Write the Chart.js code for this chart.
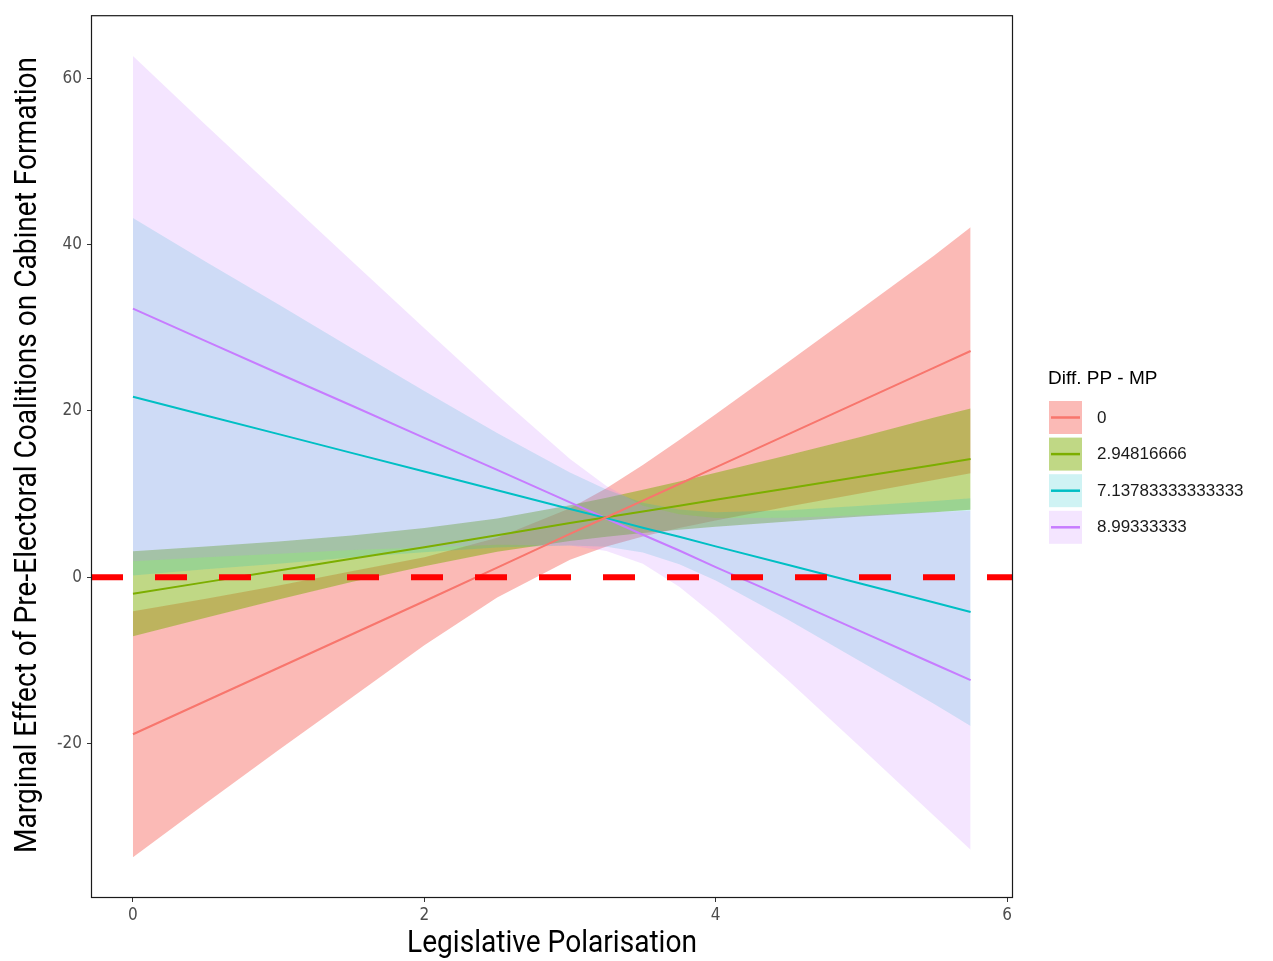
<!DOCTYPE html>
<html>
<head>
<meta charset="utf-8">
<title>Marginal Effect</title>
<script src="https://cdn.jsdelivr.net/npm/chart.js@4.4.1/dist/chart.umd.min.js"></script>
<style>
  html, body { margin: 0; padding: 0; background: #fff; }
  #wrap { width: 1273px; height: 961px; }
</style>
</head>
<body>
<div id="wrap"><canvas id="chart"></canvas></div>
<script>
// Data
const polarisation = [0, 0.5, 1, 1.5, 2, 2.5, 3, 3.25, 3.5, 3.75, 4, 4.5, 5, 5.5, 5.75];
const groupLabels = ['0', '2.94816666', '7.13783333333333', '8.99333333'];

const fit0 = [-18.9, -14.9, -10.9, -6.9, -2.9, 1.15, 5.2, 7.2, 9.2, 11.2, 13.2, 17.2, 21.2, 25.2, 27.2];
const low0 = [-33.7, -27.2, -20.8, -14.5, -8.2, -2.45, 2.1, 3.7, 4.9, 5.9, 6.8, 8.5, 10.1, 11.7, 12.5];
const high0 = [-4.1, -2.6, -1.0, 0.7, 2.4, 4.75, 8.3, 10.7, 13.5, 16.5, 19.6, 25.9, 32.3, 38.7, 42.1];

const fit1 = [-2.0, -0.6, 0.8, 2.2, 3.6, 5.05, 6.5, 7.2, 7.9, 8.6, 9.3, 10.7, 12.1, 13.5, 14.2];
const low1 = [-7.1, -4.9, -2.7, -0.6, 1.3, 3.05, 4.35, 4.85, 5.3, 5.7, 6.05, 6.7, 7.3, 7.8, 8.1];
const high1 = [3.1, 3.7, 4.3, 5.0, 5.9, 7.05, 8.65, 9.55, 10.5, 11.5, 12.55, 14.7, 16.9, 19.2, 20.3];

const fit2 = [21.7, 19.45, 17.2, 14.95, 12.7, 10.45, 8.2, 7.1, 5.95, 4.85, 3.7, 1.45, -0.8, -3.05, -4.2];
const low2 = [0.2, 0.95, 1.6, 2.35, 3.0, 3.55, 3.8, 3.65, 2.95, 1.55, -0.4, -5.15, -10.2, -15.25, -17.9];
const high2 = [43.2, 37.95, 32.8, 27.55, 22.4, 17.35, 12.6, 10.55, 8.95, 8.15, 7.8, 8.05, 8.6, 9.15, 9.5];

const fit3 = [32.3, 28.4, 24.5, 20.65, 16.75, 12.9, 9.0, 7.05, 5.1, 3.2, 1.2, -2.65, -6.55, -10.45, -12.4];
const low3 = [1.9, 2.4, 2.8, 3.25, 3.55, 3.9, 3.8, 3.15, 1.6, -1.15, -4.7, -12.45, -20.55, -28.75, -32.8];
const high3 = [62.7, 54.4, 46.2, 38.05, 29.95, 21.9, 14.2, 10.95, 8.6, 7.55, 7.1, 7.15, 7.45, 7.85, 8.0];

const xTicks = [0, 2, 4, 6];
const yTicks = [-20, 0, 20, 40, 60];
const xRange = [-0.288, 6.041];
const yRange = [-38.6, 67.6];
const refLine = 0;

// Styling
const lineColors = ['#F8766D', '#7CAE00', '#00BFC4', '#C77CFF'];
const bandColors = ['rgba(248,118,109,0.5)', 'rgba(124,174,0,0.48)', 'rgba(0,191,196,0.19)', 'rgba(199,124,255,0.2)'];
const fits = [fit0, fit1, fit2, fit3];
const lows = [low0, low1, low2, low3];
const highs = [high0, high1, high2, high3];

const pts = arr => arr.map((v, i) => ({ x: polarisation[i], y: v }));

const datasets = [];
// reference line, drawn last (lowest order)
datasets.push({
    data: [{ x: xRange[0], y: refLine }, { x: xRange[1], y: refLine }],
    borderColor: '#FF0000', borderWidth: 6, borderDash: [32, 32],
    borderCapStyle: 'butt', pointRadius: 0, fill: false, order: 0
});
fits.forEach((f, g) => {
    datasets.push({
        data: pts(f), borderColor: lineColors[g], borderWidth: 2,
        pointRadius: 0, fill: false, order: 1
    });
});
// ribbons: red at the bottom, purple on top (higher order draws first)
fits.forEach((f, g) => {
    datasets.push({
        data: pts(lows[g]), borderWidth: 0, borderColor: 'transparent',
        pointRadius: 0, fill: false, order: 10 - g
    });
    datasets.push({
        data: pts(highs[g]), borderWidth: 0, borderColor: 'transparent',
        backgroundColor: bandColors[g], pointRadius: 0, fill: '-1', order: 10 - g
    });
});

// squeeze text horizontally to mimic the condensed axis font
function squished(ctx, text, cx, cy, width, angle, size) {
    ctx.save();
    ctx.font = size + 'px Roboto, "DejaVu Sans", sans-serif';
    const w = ctx.measureText(text).width;
    ctx.translate(cx, cy);
    ctx.rotate(angle);
    ctx.scale(width / w, 1);
    ctx.fillStyle = '#000';
    ctx.textAlign = 'center';
    ctx.textBaseline = 'middle';
    ctx.fillText(text, 0, 0);
    ctx.restore();
}

const decor = {
    id: 'decor',
    afterDraw(chart) {
        const { ctx, chartArea: a } = chart;
        ctx.save();
        ctx.strokeStyle = '#1a1a1a';
        ctx.lineWidth = 1.2;
        ctx.strokeRect(a.left + 0.5, a.top + 0.5, a.right - a.left - 1, a.bottom - a.top - 1);
        ctx.restore();

        squished(ctx, 'Legislative Polarisation', 552, 944, 290, 0, 31);
        squished(ctx, 'Marginal Effect of Pre-Electoral Coalitions on Cabinet Formation', 28, 455, 796, -Math.PI / 2, 31);

        // legend
        ctx.save();
        ctx.fillStyle = '#000';
        ctx.font = '19px "Liberation Sans", Arial, sans-serif';
        ctx.textBaseline = 'alphabetic';
        ctx.fillText('Diff. PP - MP', 1048, 384);
        ctx.font = '17px "Liberation Sans", Arial, sans-serif';
        ctx.textBaseline = 'middle';
        groupLabels.forEach((lab, g) => {
            const top = 401 + g * 36.6;
            ctx.fillStyle = bandColors[g];
            ctx.fillRect(1049, top, 33, 33);
            ctx.strokeStyle = lineColors[g];
            ctx.lineWidth = 2.5;
            ctx.beginPath();
            ctx.moveTo(1051, top + 16.5);
            ctx.lineTo(1080, top + 16.5);
            ctx.stroke();
            ctx.fillStyle = '#1a1a1a';
            ctx.fillText(lab, 1097, top + 17);
        });
        ctx.restore();
    }
};

const tickFont = { family: '"DejaVu Sans Condensed", "Liberation Sans Narrow", Roboto, sans-serif', size: 17 };

new Chart(document.getElementById('chart'), {
    type: 'line',
    data: { datasets },
    options: {
        responsive: true,
        maintainAspectRatio: false,
        animation: false,
        layout: { padding: { left: 0, top: 15, right: 260, bottom: 0 } },
        plugins: { legend: { display: false }, tooltip: { enabled: false } },
        elements: { line: { tension: 0 } },
        scales: {
            x: {
                type: 'linear', min: xRange[0], max: xRange[1],
                afterBuildTicks: s => { s.ticks = xTicks.map(v => ({ value: v })); },
                afterFit: s => { s.height = 63; },
                grid: { drawOnChartArea: false, drawTicks: true, tickLength: 4, color: '#333' },
                border: { display: false },
                ticks: { font: tickFont, color: '#4d4d4d', padding: 3, maxRotation: 0 }
            },
            y: {
                type: 'linear', min: yRange[0], max: yRange[1],
                afterBuildTicks: s => { s.ticks = yTicks.map(v => ({ value: v })); },
                afterFit: s => { s.width = 91; },
                grid: { drawOnChartArea: false, drawTicks: true, tickLength: 4, color: '#333' },
                border: { display: false },
                ticks: { font: tickFont, color: '#4d4d4d', padding: 5 }
            }
        }
    },
    plugins: [decor]
});
</script>
</body>
</html>
